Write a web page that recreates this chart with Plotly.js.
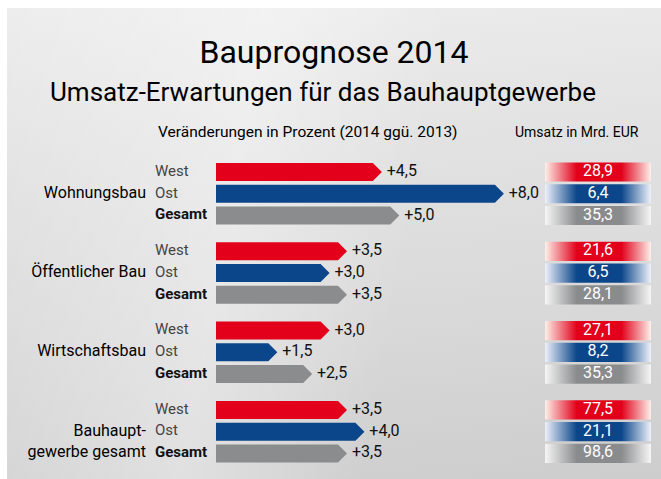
<!DOCTYPE html>
<html>
<head>
<meta charset="utf-8">
<script src="https://cdn.plot.ly/plotly-3.0.1.min.js"></script>
<style>
  html, body { margin: 0; padding: 0; background: #ffffff; }
  #wrap { position: relative; width: 661px; height: 479px; overflow: hidden; }
  #bg { position: absolute; left: 7px; top: 8px; right: 0; bottom: 0;
        background:
          linear-gradient(100deg, rgba(255,255,255,0) 0%, rgba(255,255,255,0.35) 35%, rgba(255,255,255,0) 60%),
          linear-gradient(175deg, #ededed 0%, #e3e3e3 30%, #d9d9d9 65%, #cdcdcd 100%); }
  #chart { position: absolute; left: 0; top: 0; width: 661px; height: 479px; }
</style>
</head>
<body>
<div id="wrap"><div id="bg"></div><div id="chart"></div></div>
<script>
// ---- data ----
const groups = ['Wohnungsbau', 'Öffentlicher Bau', 'Wirtschaftsbau', 'Bauhaupt-<br>gewerbe gesamt'];
const rowLabels = ['West', 'Ost', 'Gesamt'];
const changeWest = [4.5, 3.5, 3.0, 3.5];
const changeOst = [8.0, 3.0, 1.5, 4.0];
const changeGesamt = [5.0, 3.5, 2.5, 3.5];
const umsatzWest = [28.9, 21.6, 27.1, 77.5];
const umsatzOst = [6.4, 6.5, 8.2, 21.1];
const umsatzGesamt = [35.3, 28.1, 35.3, 98.6];

// ---- layout constants (pixels) ----
const W = 661, H = 479;
const PX = 34.86;      // px per percent point
const X0 = 216;        // px of value 0
const Y0 = 172;        // px of first row centre
const ROW = 21.75;     // px per row
const GSTEP = 3.646;   // rows per group
const xpx = p => (p - X0) / PX;
const head = 9 / PX, halfBar = 9 / ROW;
const boxX0 = xpx(545), boxX1 = xpx(651), boxHalf = 9.6 / ROW;

const series = [
  {vals: changeWest, umsatz: umsatzWest, color: '#e2001a', grad: '#e2001a', edge: '#fdf0ea'},
  {vals: changeOst, umsatz: umsatzOst, color: '#0b468b', grad: '#0b468b', edge: '#eef1fa'},
  {vals: changeGesamt, umsatz: umsatzGesamt, color: '#8b8c8e', grad: '#8a8b8d', edge: '#f6f6f6'}
];
const rowY = (g, r) => g * GSTEP + r;

const fnum = v => v.toFixed(1).replace('.', ',');
const traces = [];

// arrow bars
series.forEach((s, r) => {
  const xs = [], ys = [];
  s.vals.forEach((v, g) => {
    const y = rowY(g, r);
    xs.push(0, v, v + head, v, 0, 0, null);
    ys.push(y - halfBar, y - halfBar, y, y + halfBar, y + halfBar, y - halfBar, null);
  });
  traces.push({type: 'scatter', mode: 'lines', x: xs, y: ys, fill: 'toself',
    fillcolor: s.color, line: {width: 0, color: s.color}, hoverinfo: 'skip'});
  traces.push({type: 'scatter', mode: 'text',
    x: s.vals.map(v => v + head + 0.14), y: s.vals.map((v, g) => rowY(g, r)),
    text: s.vals.map(v => '+' + fnum(v)), textposition: 'middle right',
    textfont: {family: 'Roboto', size: 16, color: '#111'}, hoverinfo: 'skip'});
});

// revenue boxes
series.forEach((s, r) => {
  s.umsatz.forEach((u, g) => {
    const y = rowY(g, r);
    traces.push({type: 'scatter', mode: 'lines',
      x: [boxX0, boxX1, boxX1, boxX0, boxX0],
      y: [y - boxHalf, y - boxHalf, y + boxHalf, y + boxHalf, y - boxHalf],
      fill: 'toself', line: {width: 0},
      fillgradient: {type: 'horizontal',
        colorscale: [[0, s.edge], [0.3, s.grad], [0.72, s.grad], [1, s.edge]]},
      hoverinfo: 'skip'});
  });
  traces.push({type: 'scatter', mode: 'text',
    x: s.umsatz.map(() => (boxX0 + boxX1) / 2), y: s.umsatz.map((u, g) => rowY(g, r)),
    text: s.umsatz.map(fnum), textposition: 'middle center',
    textfont: {family: 'Roboto', size: 16, color: '#ffffff'}, hoverinfo: 'skip'});
});

// row labels
const rlx = [], rly = [], rlt = [], rlc = [];
groups.forEach((gname, g) => {
  rowLabels.forEach((lab, r) => {
    rlx.push(xpx(155)); rly.push(rowY(g, r));
    rlt.push(r === 2 ? '<b>' + lab + '</b>' : lab);
    rlc.push(r === 2 ? '#111111' : '#444444');
  });
});
traces.push({type: 'scatter', mode: 'text', x: rlx, y: rly, text: rlt,
  textposition: 'middle right', textfont: {family: 'Roboto', size: 15, color: rlc}, hoverinfo: 'skip'});

// group labels
traces.push({type: 'scatter', mode: 'text',
  x: groups.map(() => xpx(146)),
  y: groups.map((gname, g) => rowY(g, gname.indexOf('<br>') >= 0 ? 1.5 : 1)),
  text: groups, textposition: 'middle left',
  textfont: {family: 'Roboto', size: 16, color: '#000'}, hoverinfo: 'skip'});

const layout = {
  width: W, height: H,
  margin: {l: 0, r: 0, t: 0, b: 0, pad: 0},
  paper_bgcolor: 'rgba(0,0,0,0)', plot_bgcolor: 'rgba(0,0,0,0)',
  showlegend: false,
  title: {text: 'Bauprognose 2014', x: 334 / W, y: 1 - 52 / H, xanchor: 'center', yanchor: 'middle',
    font: {family: 'Roboto', size: 32, color: '#000'}},
  xaxis: {visible: false, range: [xpx(0), xpx(W)], fixedrange: true},
  yaxis: {visible: false, range: [(H - Y0) / ROW, -Y0 / ROW], fixedrange: true},
  annotations: [
    {text: 'Umsatz-Erwartungen für das Bauhauptgewerbe', xref: 'paper', yref: 'paper',
      x: 323 / W, y: 1 - 92 / H, xanchor: 'center', yanchor: 'middle', showarrow: false,
      font: {family: 'Roboto', size: 26, color: '#000'}},
    {text: 'Veränderungen in Prozent (2014 ggü. 2013)', xref: 'paper', yref: 'paper',
      x: 156 / W, y: 1 - 132 / H, xanchor: 'left', yanchor: 'middle', showarrow: false,
      font: {family: 'Roboto', size: 15.5, color: '#000'}},
    {text: 'Umsatz in Mrd. EUR', xref: 'paper', yref: 'paper',
      x: 641 / W, y: 1 - 132 / H, xanchor: 'right', yanchor: 'middle', showarrow: false,
      font: {family: 'Roboto', size: 14, color: '#000'}}
  ]
};

Plotly.newPlot('chart', traces, layout, {displayModeBar: false, staticPlot: true});
</script>
</body>
</html>
